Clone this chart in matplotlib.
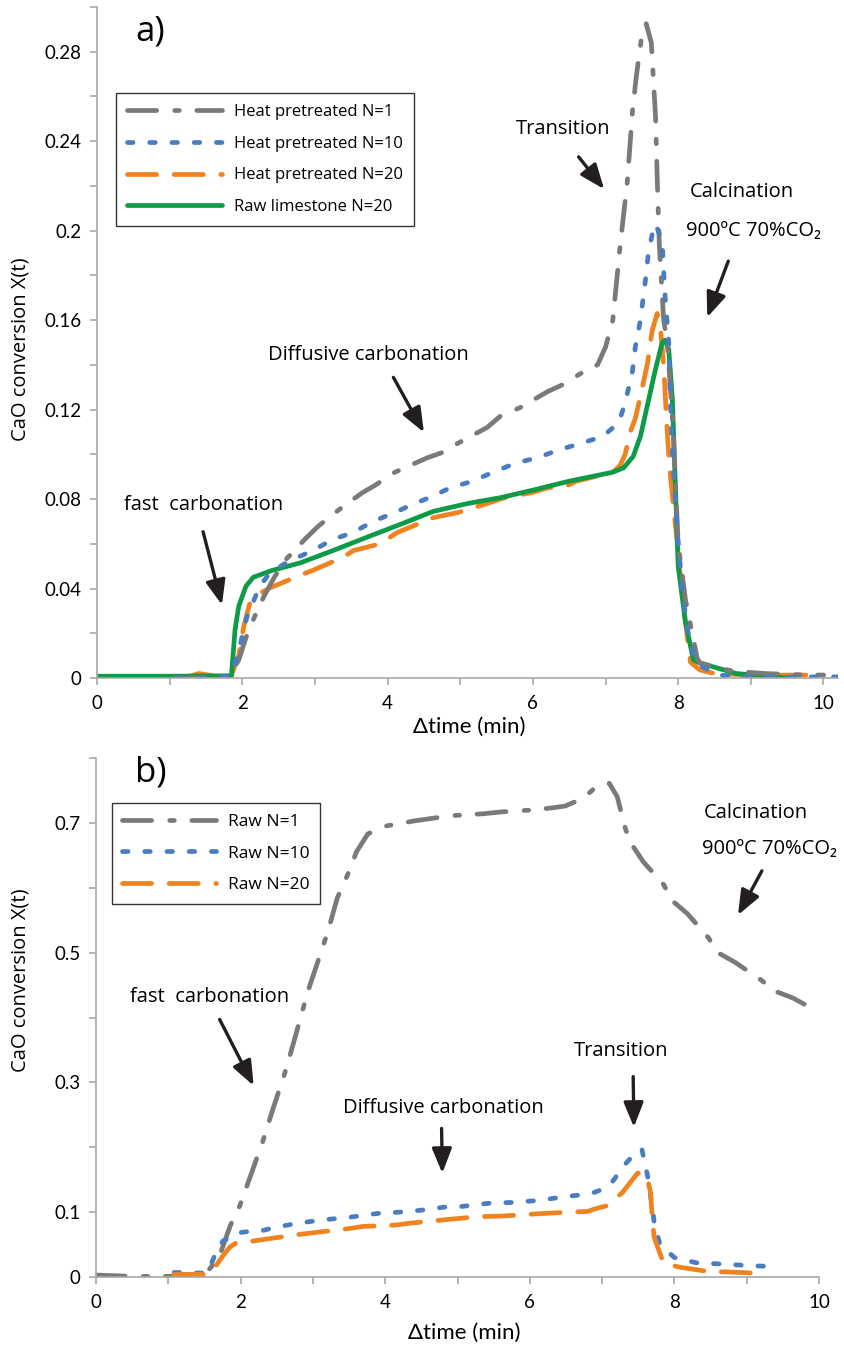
import matplotlib
matplotlib.use("Agg")
import matplotlib.pyplot as plt

plt.rcParams['lines.scale_dashes'] = False
plt.rcParams['font.family'] = ['Open Sans', 'DejaVu Sans']

# colours of the series
GRAY = '#7a7a78'
BLUE = '#4a7dbf'
ORANGE = '#f0831f'
GREEN = '#0e9b48'

# ---- panel a : heat pretreated / raw limestone ----
t_a_hp1 = [1.07, 1.5, 1.83, 1.95, 2.05, 2.15, 2.29, 2.44, 2.6, 2.86, 3.05, 3.4, 3.66, 3.82,
           4.1, 4.55, 4.77, 4.97, 5.37, 5.55, 5.83, 6.2, 6.4, 6.65, 6.89, 7.0, 7.1, 7.2, 7.3,
           7.37, 7.42, 7.49, 7.56, 7.63, 7.69, 7.71, 7.74, 7.8, 7.85, 7.93, 8.0, 8.1, 8.26,
           8.3, 8.76, 9.2, 9.6, 10.0]
x_a_hp1 = [0, 0, 0.001, 0.008, 0.018, 0.026, 0.036, 0.045, 0.053, 0.062, 0.068, 0.077, 0.083,
           0.086, 0.092, 0.0985, 0.101, 0.105, 0.112, 0.117, 0.121, 0.128, 0.131, 0.136, 0.140,
           0.148, 0.16, 0.193, 0.222, 0.253, 0.268, 0.285, 0.2925, 0.284, 0.25, 0.225, 0.194,
           0.16, 0.15, 0.112, 0.06, 0.035, 0.009, 0.0067, 0.003, 0.002, 0.0015, 0.0013]

t_a_hp10 = [1.1, 1.5, 1.85, 1.95, 2.06, 2.24, 2.38, 2.63, 2.97, 3.25, 3.52, 3.8, 4.1, 4.3, 4.6,
            4.86, 5.17, 5.45, 5.76, 6.06, 6.36, 6.67, 6.96, 7.18, 7.27, 7.37, 7.41, 7.48, 7.55,
            7.59, 7.64, 7.69, 7.78, 7.8, 7.82, 7.87, 7.89, 7.93, 7.99, 8.06, 8.13, 8.24, 8.54,
            9.0, 9.5, 10.2]
x_a_hp10 = [0, 0, 0.001, 0.012, 0.027, 0.041, 0.047, 0.052, 0.057, 0.062, 0.065, 0.07, 0.074,
            0.077, 0.081, 0.085, 0.088, 0.092, 0.096, 0.0985, 0.102, 0.105, 0.108, 0.114, 0.123,
            0.137, 0.148, 0.16, 0.178, 0.19, 0.198, 0.203, 0.195, 0.182, 0.171, 0.15, 0.125,
            0.095, 0.065, 0.038, 0.0215, 0.0067, 0.0013, 0.0005, 0.0005, 0.0005]

t_a_hp20 = [1.2, 1.4, 1.6, 1.85, 1.95, 2.02, 2.1, 2.2, 2.36, 2.8, 2.96, 3.39, 3.53, 3.9, 4.13,
            4.63, 4.97, 5.37, 5.6, 6.0, 6.2, 6.47, 6.6, 7.1, 7.2, 7.27, 7.34, 7.41, 7.48, 7.58,
            7.64, 7.71, 7.76, 7.8, 7.84, 7.88, 7.94, 7.99, 8.03, 8.1, 8.17, 8.3, 8.5, 9.0, 10.0]
x_a_hp20 = [0, 0.002, 0.001, 0.001, 0.01, 0.023, 0.033, 0.037, 0.04, 0.046, 0.048, 0.054,
            0.057, 0.06, 0.065, 0.0717, 0.074, 0.078, 0.0805, 0.083, 0.085, 0.086, 0.088, 0.092,
            0.095, 0.1, 0.11, 0.116, 0.126, 0.141, 0.155, 0.163, 0.155, 0.14, 0.115, 0.095,
            0.075, 0.06, 0.045, 0.025, 0.007, 0.0036, 0.002, 0.0013, 0.0013]

t_a_raw20 = [0, 1.0, 1.85, 1.9, 1.95, 2.05, 2.15, 2.4, 2.8, 3.25, 3.72, 4.2, 4.63, 5.1, 5.55,
             6.0, 6.5, 7.1, 7.25, 7.38, 7.48, 7.57, 7.68, 7.78, 7.82, 7.87, 7.92, 7.96, 8.0,
             8.1, 8.21, 8.3, 8.8, 9.5]
x_a_raw20 = [0.0008, 0.0008, 0.001, 0.0215, 0.032, 0.041, 0.045, 0.048, 0.0515, 0.057, 0.063,
             0.069, 0.0745, 0.078, 0.0806, 0.084, 0.088, 0.092, 0.094, 0.099, 0.108, 0.121,
             0.137, 0.15, 0.151, 0.147, 0.125, 0.087, 0.05, 0.025, 0.008, 0.0067, 0.002, 0.0]

# ---- panel b : raw limestone ----
t_b_raw1 = [0, 0.5, 1.0, 1.5, 1.7, 1.86, 1.99, 2.15, 2.31, 2.45, 2.6, 2.73, 2.93, 3.2, 3.34,
            3.52, 3.6, 3.76, 4.0, 4.4, 4.9, 5.35, 5.62, 6.05, 6.3, 6.49, 6.74, 6.88, 7.1, 7.21,
            7.32, 7.39, 7.57, 7.85, 7.97, 8.18, 8.47, 8.6, 8.84, 9.21, 9.36, 9.64, 10.0]
x_b_raw1 = [0.003, 0.001, 0.001, 0.003, 0.03, 0.08, 0.11, 0.16, 0.21, 0.26, 0.31, 0.36, 0.44,
            0.53, 0.585, 0.63, 0.655, 0.683, 0.695, 0.703, 0.711, 0.714, 0.717, 0.72, 0.723,
            0.726, 0.738, 0.752, 0.761, 0.74, 0.692, 0.67, 0.64, 0.605, 0.58, 0.56, 0.523, 0.5,
            0.485, 0.457, 0.442, 0.43, 0.408]

t_b_raw10 = [1.08, 1.5, 1.55, 1.63, 1.75, 1.96, 2.1, 2.28, 2.5, 2.8, 3.13, 3.5, 3.9, 4.2, 4.5,
             4.84, 5.0, 5.46, 5.77, 6.12, 6.5, 6.66, 6.88, 7.0, 7.13, 7.32, 7.45, 7.55, 7.64,
             7.72, 7.8, 8.0, 8.3, 8.65, 8.97, 9.36]
x_b_raw10 = [0.007, 0.006, 0.008, 0.03, 0.055, 0.068, 0.07, 0.071, 0.077, 0.083, 0.088, 0.092,
             0.098, 0.1, 0.103, 0.108, 0.108, 0.114, 0.115, 0.118, 0.124, 0.126, 0.13, 0.135,
             0.145, 0.174, 0.19, 0.197, 0.15, 0.085, 0.05, 0.03, 0.022, 0.02, 0.018, 0.016]

t_b_raw20 = [1.08, 1.3, 1.55, 1.62, 1.75, 1.85, 1.96, 2.14, 2.58, 2.76, 3.52, 3.7, 4.14, 4.35,
             4.8, 5.28, 5.62, 6.05, 6.53, 6.8, 6.9, 7.07, 7.28, 7.49, 7.57, 7.64, 7.67, 7.7,
             7.72, 7.85, 8.08, 8.5, 8.7, 9.1]
x_b_raw20 = [0.004, 0.004, 0.004, 0.011, 0.032, 0.046, 0.054, 0.055, 0.062, 0.065, 0.075,
             0.078, 0.08, 0.083, 0.088, 0.093, 0.094, 0.097, 0.1, 0.101, 0.105, 0.11, 0.13,
             0.16, 0.161, 0.145, 0.13, 0.083, 0.061, 0.021, 0.015, 0.008, 0.008, 0.006]

# ticks
a_yticks = [0, 0.02, 0.04, 0.06, 0.08, 0.10, 0.12, 0.14, 0.16, 0.18, 0.20, 0.22, 0.24, 0.26, 0.28, 0.30]
a_ylabels = ['0', '', '0.04', '', '0.08', '', '0.12', '', '0.16', '', '0.2', '', '0.24', '', '0.28', '']
b_yticks = [0, 0.1, 0.2, 0.3, 0.4, 0.5, 0.6, 0.7, 0.8]
b_ylabels = ['0', '0.1', '', '0.3', '', '0.5', '', '0.7', '']
xticks = list(range(11))
xlabels = ['0', '', '2', '', '4', '', '6', '', '8', '', '10']

# line styles (points)
DASHDOT = (0, (21, 13, 3.3, 12.6))
DOTTED = (0, (4, 12))
DASHED = (0, (21, 12.6))
LW = 3.4
ANN = 14.5  # annotation font size

fig = plt.figure(figsize=(8.45, 13.53), dpi=100)
W, H = 845, 1353
ax1 = fig.add_axes([97 / W, 1 - 678 / H, (838 - 97) / W, (678 - 7) / H])
ax2 = fig.add_axes([96 / W, 1 - 1277 / H, (819 - 96) / W, (1277 - 758) / H])

tick_font = ['Lato', 'DejaVu Sans']


def style_axes(ax, xmax, ymax, yticks, ylabels):
    ax.set_xlim(0, xmax)
    ax.set_ylim(0, ymax)
    for s in ['top', 'right']:
        ax.spines[s].set_visible(False)
    for s in ['left', 'bottom']:
        ax.spines[s].set_color('#a8a8a8')
        ax.spines[s].set_linewidth(1.2)
    ax.set_xticks(xticks)
    ax.set_xticklabels(xlabels)
    ax.set_yticks(yticks)
    ax.set_yticklabels(ylabels)
    ax.tick_params(direction='out', length=5, width=1.2, color='#a8a8a8', labelsize=13.5)
    ax.tick_params(axis='x', pad=7)
    ax.tick_params(axis='y', pad=6)
    for lab in ax.get_xticklabels() + ax.get_yticklabels():
        lab.set_family(tick_font)
    ax.set_ylabel('CaO conversion X(t)', fontsize=14.5)
    ax.set_xlabel('\u0394time (min)', fontsize=16, family=tick_font)


def arrow(ax, tail, tip):
    ax.annotate('', xy=tip, xytext=tail,
                arrowprops=dict(arrowstyle='-|>,head_length=1.5,head_width=0.6',
                                mutation_scale=10, lw=2.4, color='#231f20',
                                shrinkA=0, shrinkB=0))


kw = dict(lw=LW, dash_capstyle='round', solid_capstyle='round')

# panel a
l_or, = ax1.plot(t_a_hp20, x_a_hp20, color=ORANGE, linestyle=DASHED, label='Heat pretreated N=20', **kw)
l_gr, = ax1.plot(t_a_raw20, x_a_raw20, color=GREEN, linestyle='-', label='Raw limestone N=20', **kw)
l_gy, = ax1.plot(t_a_hp1, x_a_hp1, color=GRAY, linestyle=DASHDOT, label='Heat pretreated N=1', **kw)
l_bl, = ax1.plot(t_a_hp10, x_a_hp10, color=BLUE, linestyle=DOTTED, label='Heat pretreated N=10', **kw)
style_axes(ax1, 10.2, 0.30, a_yticks, a_ylabels)
ax1.yaxis.set_label_coords(-0.09, 0.49)
ax1.xaxis.set_label_coords(0.503, -0.058)
leg1 = ax1.legend(handles=[l_gy, l_bl, l_or, l_gr], loc='upper left',
                  bbox_to_anchor=(0.0256, 0.872), borderaxespad=0, fontsize=12,
                  handlelength=5.7, handletextpad=0.75, labelspacing=0.95,
                  borderpad=0.65, fancybox=False, framealpha=1, edgecolor='#333333')
leg1.get_frame().set_linewidth(1.0)

ax1.text(0.73, 0.289, 'a)', fontsize=25, ha='center', va='center')
ax1.text(6.42, 0.2455, 'Transition', fontsize=ANN, ha='center', va='center')
arrow(ax1, (6.63, 0.233), (6.98, 0.2186))
ax1.text(8.88, 0.2173, 'Calcination', fontsize=ANN, ha='center', va='center')
ax1.text(9.04, 0.1998, '900ºC 70%CO\u2082', fontsize=ANN, ha='center', va='center')
arrow(ax1, (8.69, 0.1864), (8.40, 0.1613))
ax1.text(3.73, 0.1443, 'Diffusive carbonation', fontsize=ANN, ha='center', va='center')
arrow(ax1, (4.08, 0.1344), (4.5, 0.1098))
ax1.text(1.46, 0.0775, 'fast  carbonation', fontsize=ANN, ha='center', va='center')
arrow(ax1, (1.46, 0.0654), (1.72, 0.0327))

# panel b
l_b1, = ax2.plot(t_b_raw1, x_b_raw1, color=GRAY, linestyle=DASHDOT, label='Raw N=1', **kw)
l_b10, = ax2.plot(t_b_raw10, x_b_raw10, color=BLUE, linestyle=DOTTED, label='Raw N=10', **kw)
l_b20, = ax2.plot(t_b_raw20, x_b_raw20, color=ORANGE, linestyle=DASHED, label='Raw N=20', **kw)
style_axes(ax2, 10, 0.8, b_yticks, b_ylabels)
ax2.yaxis.set_label_coords(-0.09, 0.572)
ax2.xaxis.set_label_coords(0.51, -0.088)
leg2 = ax2.legend(handles=[l_b1, l_b10, l_b20], loc='upper left',
                  bbox_to_anchor=(0.022, 0.913), borderaxespad=0, fontsize=12.5,
                  handlelength=5.4, handletextpad=0.7, labelspacing=0.9,
                  borderpad=0.6, fancybox=False, framealpha=1, edgecolor='#333333')
leg2.get_frame().set_linewidth(1.0)

ax2.text(0.76, 0.777, 'b)', fontsize=25, ha='center', va='center')
ax2.text(9.12, 0.715, 'Calcination', fontsize=ANN, ha='center', va='center')
ax2.text(9.32, 0.66, '900ºC 70%CO\u2082', fontsize=ANN, ha='center', va='center')
arrow(ax2, (9.21, 0.626), (8.88, 0.558))
ax2.text(1.57, 0.431, 'fast  carbonation', fontsize=ANN, ha='center', va='center')
arrow(ax2, (1.71, 0.397), (2.18, 0.295))
ax2.text(4.81, 0.26, 'Diffusive carbonation', fontsize=ANN, ha='center', va='center')
arrow(ax2, (4.78, 0.229), (4.79, 0.16))
ax2.text(7.27, 0.349, 'Transition', fontsize=ANN, ha='center', va='center')
arrow(ax2, (7.43, 0.309), (7.44, 0.231))

fig.savefig('out.png', dpi=100)
